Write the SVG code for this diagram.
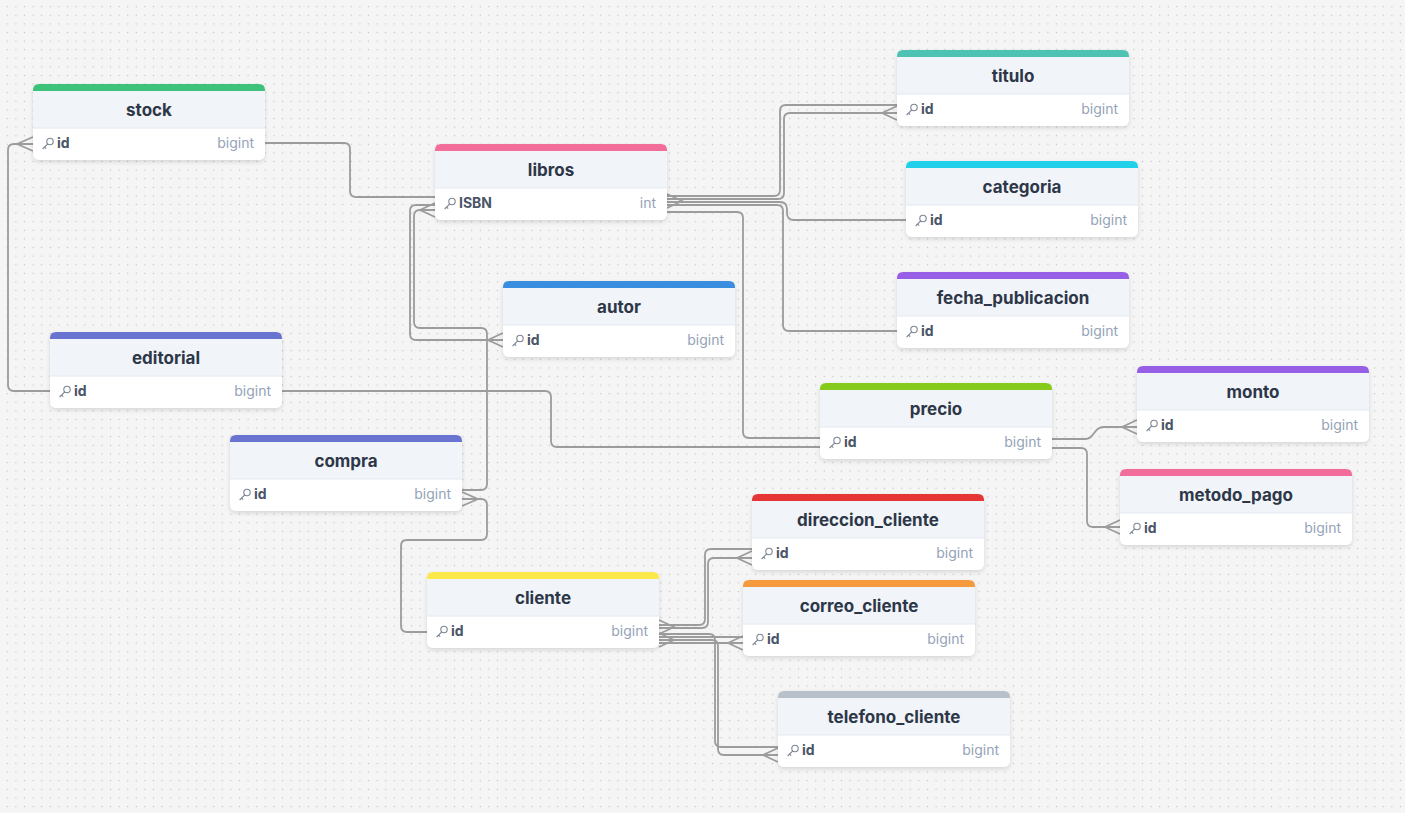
<svg xmlns="http://www.w3.org/2000/svg" width="1405" height="813" viewBox="0 0 1405 813">
<defs>
<pattern id="dots" x="3" y="2.4" width="8.6" height="8.6" patternUnits="userSpaceOnUse">
<circle cx="4.3" cy="4.3" r="0.7" fill="#c6c6c6"/>
</pattern>
<filter id="sh" x="-10%" y="-20%" width="120%" height="150%">
<feDropShadow dx="0" dy="2" stdDeviation="2" flood-color="#000" flood-opacity="0.13"/>
</filter>
<g id="tbl">
<rect x="0" y="0" width="232" height="76" rx="6" fill="#ffffff" filter="url(#sh)"/>
<rect x="0" y="7" width="232" height="37" fill="#f1f4f9"/>
<line x1="0" y1="44" x2="232" y2="44" stroke="#e2e8f0" stroke-width="1"/>
<g fill="none" stroke="#7b8494" stroke-width="1.1">
<circle cx="17" cy="57.5" r="3.2"/>
<path d="M14.8,59.8 L9.6,65 M11.6,63 L13.2,64.6"/>
</g>
</g>
</defs>
<style>
.t{font-family:Inter,"Noto Sans","Liberation Sans",sans-serif;font-size:17px;font-weight:700;fill:#2d3748;text-anchor:middle}
.f{font-family:Inter,"Noto Sans","Liberation Sans",sans-serif;font-size:14px;font-weight:700;fill:#4a5568}
.y{font-family:Inter,"Noto Sans","Liberation Sans",sans-serif;font-size:14px;fill:#94a3b8;text-anchor:end}
.c{fill:none;stroke:#9c9c9c;stroke-width:1.8}
</style>
<rect width="1405" height="813" fill="#f5f5f5"/>
<rect width="1405" height="813" fill="url(#dots)"/>

<g id="connectors" class="c">
<path d="M33,144 H14 Q8,144 8,150 V385 Q8,391 14,391 H50"/>
<path d="M33,137 L17,144 L33,151"/>
<path d="M265,143 H344 Q350,143 350,149 V191 Q350,197 356,197 H435"/>
<path d="M435,205 H416 Q410,205 410,211 V334 Q410,340 416,340 H503"/>
<path d="M503,333 L488,340 L503,347"/>
<path d="M435,210 H420 Q414,210 414,216 V322 Q414,328 420,328 H481 Q487,328 487,334 V484 Q487,490 481,490 H462"/>
<path d="M435,203 L420,210 L435,217"/>
<path d="M462,499 H481 Q487,499 487,505 V534 Q487,540 481,540 H407 Q401,540 401,546 V626 Q401,632 407,632 H427"/>
<path d="M462,492 L478,499 L462,506"/>
<path d="M282,391 H545 Q551,391 551,397 V441 Q551,447 557,447 H820"/>
<path d="M667,212 H737 Q743,212 743,218 V432 Q743,438 749,438 H820"/>
<path d="M667,196 H774 Q780,196 780,190 V111 Q780,105 786,105 H897"/>
<path d="M667,199 H778 Q784,199 784,193 V119 Q784,113 790,113 H897"/>
<path d="M897,106 L882,113 L897,120"/>
<path d="M667,202 H780 Q787,202 787,209 V213 Q787,220 794,220 H906"/>
<path d="M667,205 H777 Q783,205 783,211 V325 Q783,331 789,331 H897"/>
<path d="M667,194 L682,201 L667,208"/>
<path d="M1052,439 H1085 C1095,439 1093,427 1104,427 H1137"/>
<path d="M1137,420 L1122,427 L1137,434"/>
<path d="M1052,448 H1081 Q1087,448 1087,454 V521 Q1087,527 1093,527 H1120"/>
<path d="M1120,520 L1105,527 L1120,534"/>
<path d="M659,625 H699 Q705,625 705,619 V555 Q705,549 711,549 H752"/>
<path d="M659,628 H702 Q708,628 708,622 V564 Q708,558 714,558 H752"/>
<path d="M752,551 L737,558 L752,565"/>
<path d="M659,637 H743"/>
<path d="M659,643 H743"/>
<path d="M743,636 L728,643 L743,650"/>
<path d="M659,634 H709 Q715,634 715,640 V741 Q715,747 721,747 H778"/>
<path d="M659,640 H712 Q718,640 718,646 V749 Q718,755 724,755 H778"/>
<path d="M778,748 L763,755 L778,762"/>
<path d="M659,620 L674,627 L659,634"/>
<path d="M659,633 L674,640 L659,647"/>
</g>

<g id="stock" transform="translate(33,84)">
<use href="#tbl"/>
<path d="M0,7 V6 Q0,0 6,0 H226 Q232,0 232,6 V7 Z" fill="#3ec27a"/>
<text class="t" x="116" y="32">stock</text>
<text class="f" x="24" y="64">id</text>
<text class="y" x="221" y="64">bigint</text>
</g>

<g id="libros" transform="translate(435,144)">
<use href="#tbl"/>
<path d="M0,7 V6 Q0,0 6,0 H226 Q232,0 232,6 V7 Z" fill="#f26d99"/>
<text class="t" x="116" y="32">libros</text>
<text class="f" x="24" y="64">ISBN</text>
<text class="y" x="221" y="64">int</text>
</g>

<g id="titulo" transform="translate(897,50)">
<use href="#tbl"/>
<path d="M0,7 V6 Q0,0 6,0 H226 Q232,0 232,6 V7 Z" fill="#4ec3b4"/>
<text class="t" x="116" y="32">titulo</text>
<text class="f" x="24" y="64">id</text>
<text class="y" x="221" y="64">bigint</text>
</g>

<g id="categoria" transform="translate(906,161)">
<use href="#tbl"/>
<path d="M0,7 V6 Q0,0 6,0 H226 Q232,0 232,6 V7 Z" fill="#22d0ea"/>
<text class="t" x="116" y="32">categoria</text>
<text class="f" x="24" y="64">id</text>
<text class="y" x="221" y="64">bigint</text>
</g>

<g id="fecha_publicacion" transform="translate(897,272)">
<use href="#tbl"/>
<path d="M0,7 V6 Q0,0 6,0 H226 Q232,0 232,6 V7 Z" fill="#975ee6"/>
<text class="t" x="116" y="32">fecha_publicacion</text>
<text class="f" x="24" y="64">id</text>
<text class="y" x="221" y="64">bigint</text>
</g>

<g id="autor" transform="translate(503,281)">
<use href="#tbl"/>
<path d="M0,7 V6 Q0,0 6,0 H226 Q232,0 232,6 V7 Z" fill="#3a8ee0"/>
<text class="t" x="116" y="32">autor</text>
<text class="f" x="24" y="64">id</text>
<text class="y" x="221" y="64">bigint</text>
</g>

<g id="editorial" transform="translate(50,332)">
<use href="#tbl"/>
<path d="M0,7 V6 Q0,0 6,0 H226 Q232,0 232,6 V7 Z" fill="#6874d0"/>
<text class="t" x="116" y="32">editorial</text>
<text class="f" x="24" y="64">id</text>
<text class="y" x="221" y="64">bigint</text>
</g>

<g id="monto" transform="translate(1137,366)">
<use href="#tbl"/>
<path d="M0,7 V6 Q0,0 6,0 H226 Q232,0 232,6 V7 Z" fill="#975ee6"/>
<text class="t" x="116" y="32">monto</text>
<text class="f" x="24" y="64">id</text>
<text class="y" x="221" y="64">bigint</text>
</g>

<g id="precio" transform="translate(820,383)">
<use href="#tbl"/>
<path d="M0,7 V6 Q0,0 6,0 H226 Q232,0 232,6 V7 Z" fill="#86cb1b"/>
<text class="t" x="116" y="32">precio</text>
<text class="f" x="24" y="64">id</text>
<text class="y" x="221" y="64">bigint</text>
</g>

<g id="compra" transform="translate(230,435)">
<use href="#tbl"/>
<path d="M0,7 V6 Q0,0 6,0 H226 Q232,0 232,6 V7 Z" fill="#6874d0"/>
<text class="t" x="116" y="32">compra</text>
<text class="f" x="24" y="64">id</text>
<text class="y" x="221" y="64">bigint</text>
</g>

<g id="metodo_pago" transform="translate(1120,469)">
<use href="#tbl"/>
<path d="M0,7 V6 Q0,0 6,0 H226 Q232,0 232,6 V7 Z" fill="#f26d99"/>
<text class="t" x="116" y="32">metodo_pago</text>
<text class="f" x="24" y="64">id</text>
<text class="y" x="221" y="64">bigint</text>
</g>

<g id="direccion_cliente" transform="translate(752,494)">
<use href="#tbl"/>
<path d="M0,7 V6 Q0,0 6,0 H226 Q232,0 232,6 V7 Z" fill="#e53535"/>
<text class="t" x="116" y="32">direccion_cliente</text>
<text class="f" x="24" y="64">id</text>
<text class="y" x="221" y="64">bigint</text>
</g>

<g id="cliente" transform="translate(427,572)">
<use href="#tbl"/>
<path d="M0,7 V6 Q0,0 6,0 H226 Q232,0 232,6 V7 Z" fill="#fde84c"/>
<text class="t" x="116" y="32">cliente</text>
<text class="f" x="24" y="64">id</text>
<text class="y" x="221" y="64">bigint</text>
</g>

<g id="correo_cliente" transform="translate(743,580)">
<use href="#tbl"/>
<path d="M0,7 V6 Q0,0 6,0 H226 Q232,0 232,6 V7 Z" fill="#f59a3f"/>
<text class="t" x="116" y="32">correo_cliente</text>
<text class="f" x="24" y="64">id</text>
<text class="y" x="221" y="64">bigint</text>
</g>

<g id="telefono_cliente" transform="translate(778,691)">
<use href="#tbl"/>
<path d="M0,7 V6 Q0,0 6,0 H226 Q232,0 232,6 V7 Z" fill="#b8c0c9"/>
<text class="t" x="116" y="32">telefono_cliente</text>
<text class="f" x="24" y="64">id</text>
<text class="y" x="221" y="64">bigint</text>
</g>
</svg>
